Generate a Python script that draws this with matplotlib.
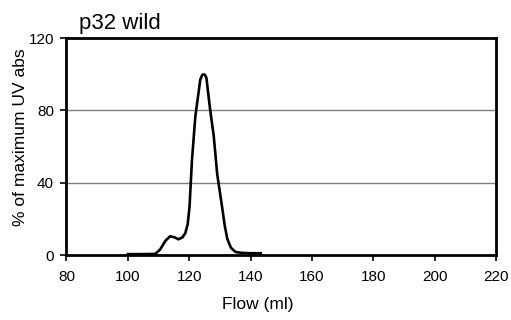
import matplotlib
matplotlib.use("Agg")
import matplotlib.pyplot as plt

flow = [100.0, 104.0, 108.9, 110.5, 112.3, 113.8, 115.2, 116.5, 117.8, 118.7, 119.5,
        120.1, 120.9, 122.0, 123.6, 124.2, 124.7, 125.2, 125.6, 126.7, 128.0,
        129.1, 130.7, 131.6, 132.4, 133.6, 135.1, 137.0, 140.0, 143.3]
uv = [0.5, 0.5, 0.6, 3.0, 8.0, 10.4, 9.8, 8.7, 9.8, 12.0, 17.0,
      26.7, 52.6, 76.7, 97.0, 99.5, 100.0, 99.5, 98.0, 82.0, 65.6,
      45.0, 26.7, 16.0, 9.0, 4.0, 1.7, 1.2, 1.0, 1.0]

xticks = [80, 100, 120, 140, 160, 180, 200, 220]
yticks = [0, 40, 80, 120]

plt.rcParams['font.family'] = ['Liberation Sans', 'DejaVu Sans']

fig = plt.figure(figsize=(5.11, 3.20), dpi=100)
ax = fig.add_axes([0.130, 0.203, 0.841, 0.678])

for yv in yticks[1:-1]:
    ax.axhline(yv, color='#808080', lw=1.0, zorder=1)

ax.plot(flow, uv, color='black', lw=1.9, zorder=3, solid_joinstyle='round')

ax.set_xlim(80, 220)
ax.set_ylim(0, 120)
ax.set_xticks(xticks)
ax.set_yticks(yticks)
ax.tick_params(axis='both', direction='out', length=4, width=1.2, labelsize=11, pad=3)
ax.tick_params(axis='x', pad=7)
ax.tick_params(axis='y', pad=5)
for s in ax.spines.values():
    s.set_linewidth(2.0)
    s.set_color('black')

ax.set_xlabel('Flow (ml)', fontsize=12.5)
ax.xaxis.set_label_coords((257.5 - 66.5) / 429.8, -(304 - 255) / 217.0, transform=ax.transAxes)
ax.xaxis.label.set_va('center')
ax.set_ylabel('% of maximum UV abs', fontsize=12.5)
ax.yaxis.set_label_coords(-(66.5 - 21) / 429.8, (255 - 137.5) / 217.0, transform=ax.transAxes)
ax.yaxis.label.set_va('center')
fig.text(79 / 511, 1 - 24 / 320, 'p32 wild', fontsize=16, ha='left', va='center')

fig.savefig('out.png', dpi=100)
